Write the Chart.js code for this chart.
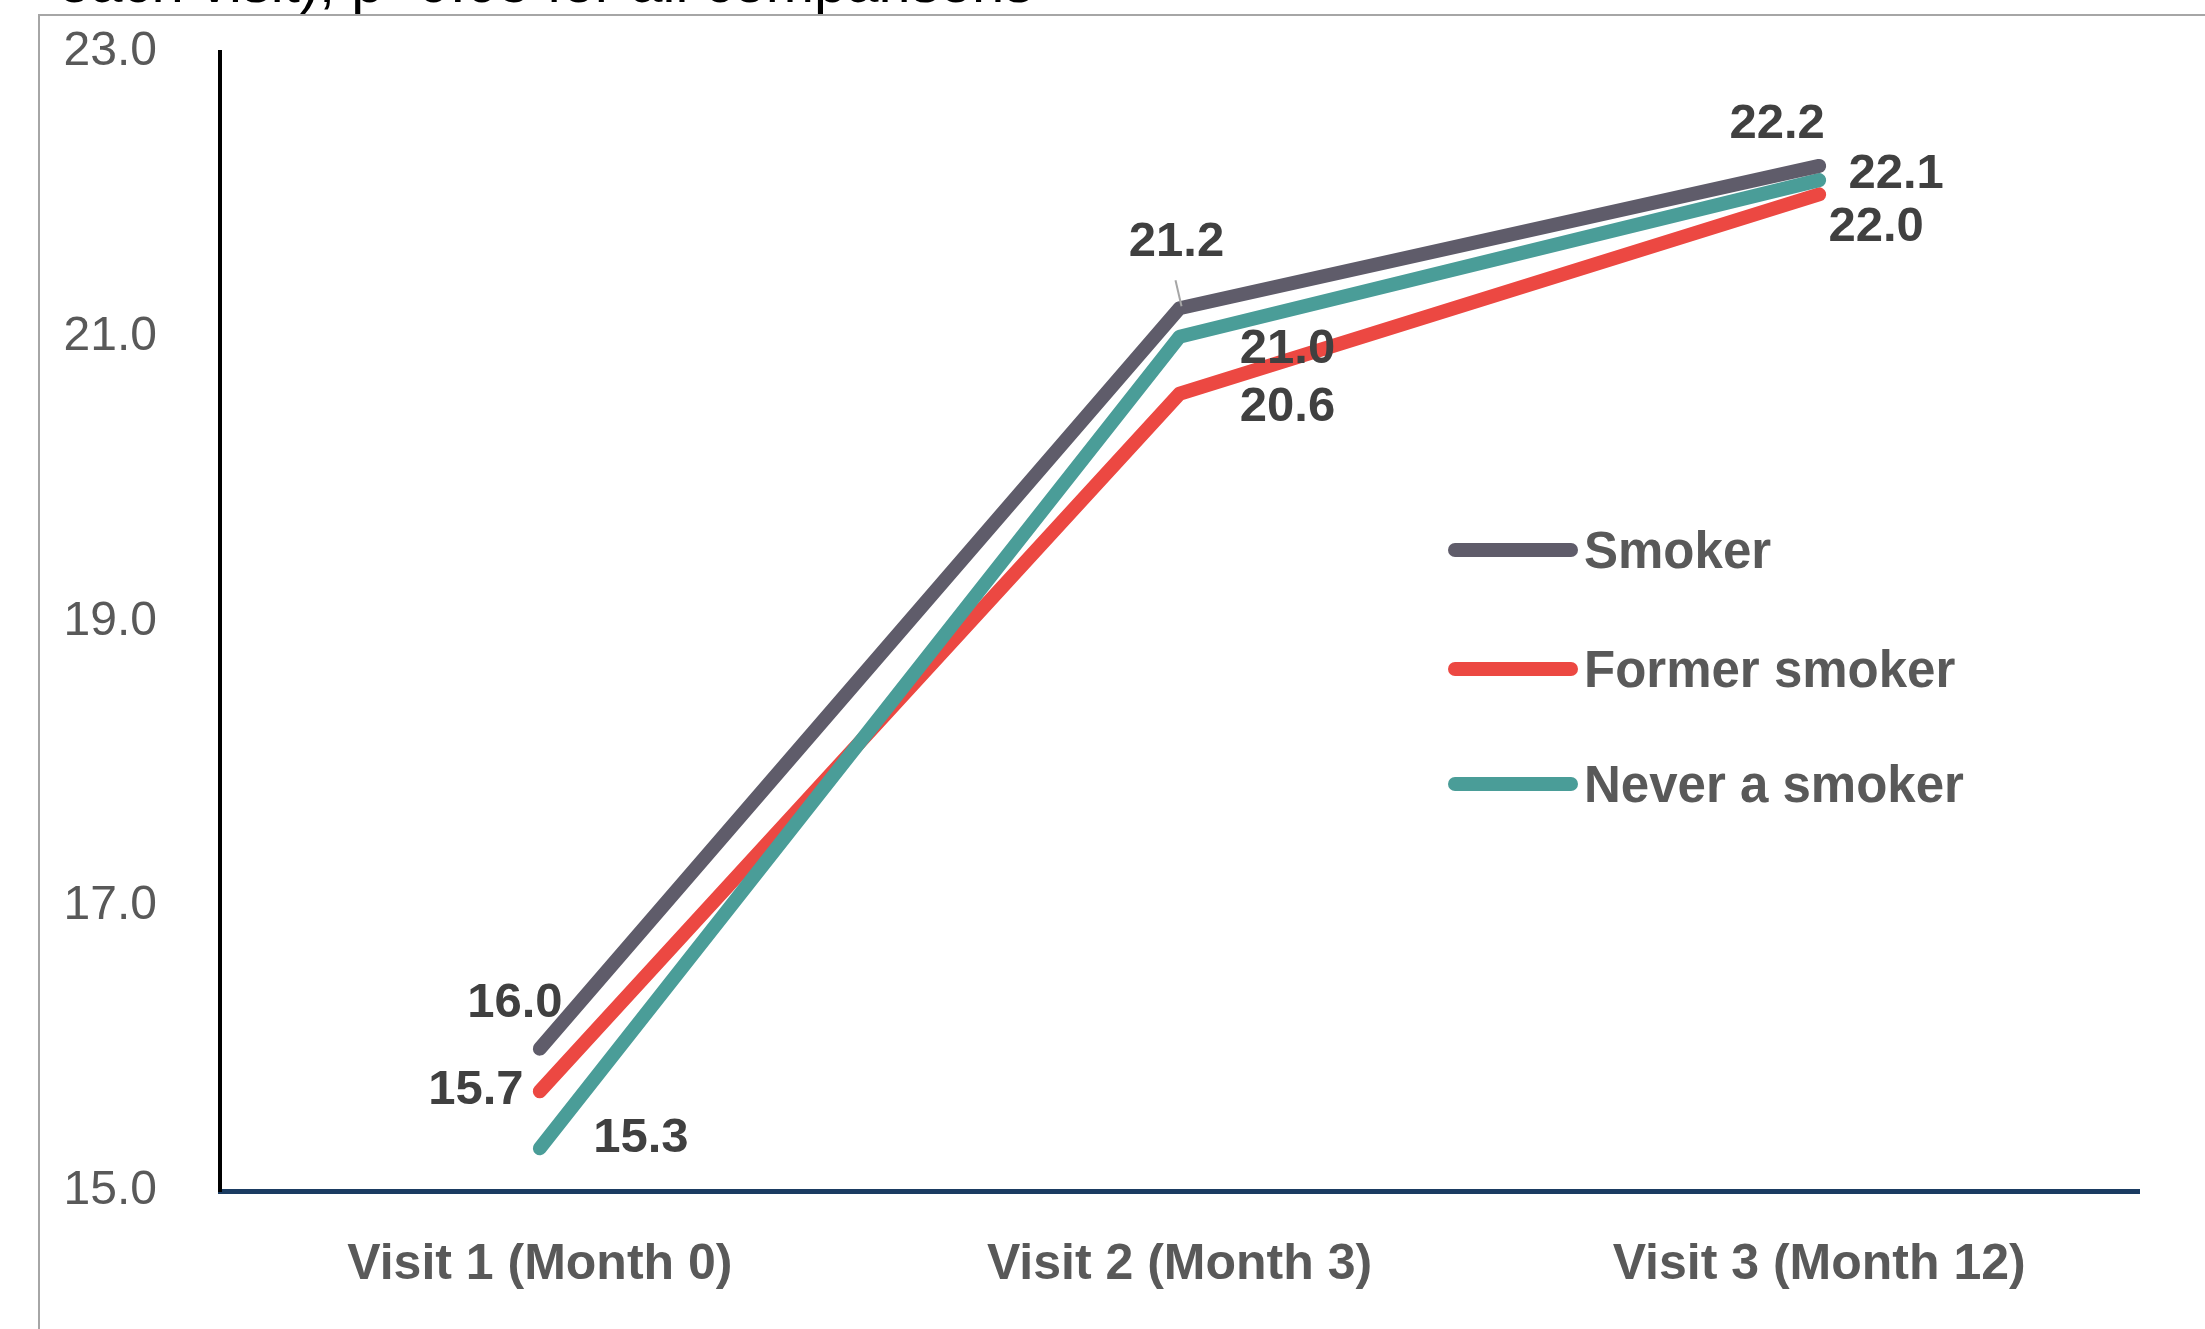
<!DOCTYPE html>
<html>
<head>
<meta charset="utf-8">
<script src="https://cdn.jsdelivr.net/npm/chart.js@4.4.1/dist/chart.umd.min.js"></script>
<style>
    html, body { margin: 0; padding: 0; background: #fff; }
    body { width: 2205px; height: 1329px; position: relative; overflow: hidden; font-family: 'Liberation Sans', Arial, sans-serif; }
    #chart-wrap { position: absolute; left: 0; top: 0; width: 2205px; height: 1329px; }
    .frame { position: absolute; left: 38px; top: 14px; right: -10px; bottom: -10px; border-top: 2px solid #a6a6a6; border-left: 2px solid #a6a6a6; }
    .cut-title { position: absolute; left: 58px; top: -47px; font-size: 58px; line-height: 1; color: #000; white-space: nowrap; }
    .legend { position: absolute; left: 1448px; top: 0; }
    .legend-item { position: absolute; left: 0; height: 60px; display: flex; align-items: center; white-space: nowrap; }
    .legend-line { width: 130px; height: 14px; border-radius: 7px; margin-right: 6px; }
    .legend-text { font-weight: bold; font-size: 51px; color: #595959; }
</style>
</head>
<body>
<div class="cut-title">each visit), p&lt;0.05 for all comparisons</div>
<div class="frame"></div>
<div id="chart-wrap"><canvas id="visit-chart" width="2205" height="1329"></canvas></div>
<div class="legend" id="legend"></div>
<script>
// --- Data ---
const visitLabels = ['Visit 1 (Month 0)', 'Visit 2 (Month 3)', 'Visit 3 (Month 12)'];
const seriesNames = ['Smoker', 'Former smoker', 'Never a smoker'];
const smokerValues = [16.0, 21.2, 22.2];
const formerValues = [15.7, 20.6, 22.0];
const neverValues = [15.3, 21.0, 22.1];
const yTicks = [15.0, 17.0, 19.0, 21.0, 23.0];

// --- Styling ---
const seriesColors = ['#5f5c6a', '#ec4842', '#4a9d98'];
const drawOrder = [0, 2, 1]; // teal sits over red where they cross
const FONT = "'Liberation Sans', Arial, sans-serif";

// label offsets from each point (px), per series, per visit
const labelOffsets = [
    [[-25, -49], [-3, -69], [-42, -45]],
    [[-64, -4], [108, 10], [57, 30]],
    [[101, -13], [108, 9], [77, -9]]
];

const valueLabels = {
    id: 'valueLabels',
    afterDatasetsDraw(chart) {
        const ctx = chart.ctx;
        ctx.save();
        ctx.font = `bold 49px ${FONT}`;
        ctx.fillStyle = '#404040';
        ctx.textAlign = 'center';
        ctx.textBaseline = 'alphabetic';
        chart.data.datasets.forEach((ds, i) => {
            const meta = chart.getDatasetMeta(i);
            meta.data.forEach((pt, j) => {
                const [dx, dy] = labelOffsets[i][j];
                ctx.fillText(ds.data[j].toFixed(1), pt.x + dx, pt.y + dy + 17);
            });
        });
        // small leader line for the smoker label at visit 2
        const p = chart.getDatasetMeta(0).data[1];
        ctx.strokeStyle = '#a6a6a6';
        ctx.lineWidth = 2;
        ctx.beginPath();
        ctx.moveTo(p.x - 4, p.y - 28);
        ctx.lineTo(p.x + 2, p.y - 2);
        ctx.stroke();
        ctx.restore();
    }
};

const seriesData = [smokerValues, formerValues, neverValues];

const config = {
    type: 'line',
    data: {
        labels: visitLabels,
        datasets: seriesNames.map((name, i) => ({
            label: name,
            data: seriesData[i],
            borderColor: seriesColors[i],
            backgroundColor: seriesColors[i],
            borderWidth: 14,
            borderCapStyle: 'round',
            borderJoinStyle: 'round',
            pointRadius: 0,
            tension: 0,
            order: drawOrder[i]
        }))
    },
    options: {
        responsive: false,
        animation: false,
        layout: { padding: { top: 52, right: 66, bottom: 0, left: 0 } },
        plugins: { legend: { display: false }, tooltip: { enabled: false } },
        scales: {
            x: {
                type: 'category',
                offset: true,
                grid: { display: false },
                border: { color: '#1b3c62', width: 5 },
                ticks: {
                    font: { family: FONT, size: 50, weight: 'bold' },
                    color: '#595959',
                    padding: 36,
                    maxRotation: 0
                },
                afterFit(scale) { scale.height = 138; }
            },
            y: {
                min: 15,
                max: 23,
                afterBuildTicks(scale) { scale.ticks = yTicks.map(v => ({ value: v })); },
                grid: { display: false },
                border: { color: '#000000', width: 4 },
                ticks: {
                    font: { family: FONT, size: 48 },
                    color: '#595959',
                    padding: 55,
                    callback: v => Number(v).toFixed(1)
                },
                afterFit(scale) {
                    scale.width = 220;
                    scale.paddingTop = 0;
                    scale.paddingBottom = 0;
                }
            }
        }
    },
    plugins: [valueLabels]
};

new Chart(document.getElementById('visit-chart').getContext('2d'), config);

// --- Legend ---
const legendTops = [550, 669, 784];
const legendEl = document.getElementById('legend');
seriesNames.forEach((name, i) => {
    const item = document.createElement('div');
    item.className = 'legend-item';
    item.style.top = (legendTops[i] - 30) + 'px';
    item.innerHTML = `<span class="legend-line" style="background:${seriesColors[i]}"></span><span class="legend-text">${name}</span>`;
    legendEl.appendChild(item);
});
</script>
</body>
</html>
